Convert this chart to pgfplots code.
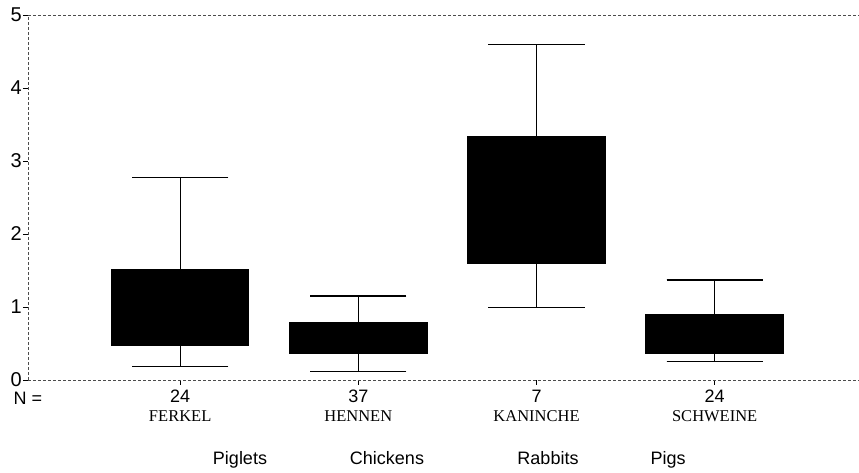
\documentclass[border=0pt]{standalone}
\usepackage{pgfplots}
\pgfplotsset{compat=1.18}
\usepgfplotslibrary{statistics}
\usepackage{fontspec}
\setmainfont{Liberation Serif}
\setsansfont{Liberation Sans}
\begin{document}
\begin{tikzpicture}
\useasboundingbox (0,0) rectangle (859pt,473pt);
\begin{axis}[
  scale only axis, width=831pt, height=365pt,
  at={(28pt,93pt)}, anchor=south west,
  xmin=0.146, xmax=4.81, ymin=0, ymax=5,
  axis lines=left,
  axis line style={-, densely dashed, black!70, line width=0.6pt},
  tick style={black, line width=0.8pt},
  tick align=outside, major tick length=5pt,
  ytick={0,1,2,3,4,5},
  xtick={1,2,3,4},
  xticklabels={
    {{\sffamily 24}\\{\rmfamily\fontsize{16.5}{19}\selectfont FERKEL}},
    {{\sffamily 37}\\{\rmfamily\fontsize{16.5}{19}\selectfont HENNEN}},
    {{\sffamily 7}\\{\rmfamily\fontsize{16.5}{19}\selectfont KANINCHE}},
    {{\sffamily 24}\\{\rmfamily\fontsize{16.5}{19}\selectfont SCHWEINE}}},
  xticklabel style={align=center, inner sep=1pt, yshift=-4pt, font=\sffamily\fontsize{18}{19}\selectfont},
  yticklabel style={font=\sffamily\fontsize{20}{20}\selectfont, inner sep=1pt},
  /pgf/number format/assume math mode=true,
  boxplot/draw direction=y,
  clip=false,
]
\addplot+[mark=none, fill=black, draw=black, line width=1.2pt,
  boxplot prepared={lower whisker=0.18, lower quartile=0.47, median=0.9,
    upper quartile=1.51, upper whisker=2.77, box extend=0.77, whisker extend=0.54}]
  coordinates {};
\addplot+[mark=none, fill=black, draw=black, line width=1.2pt,
  boxplot prepared={lower whisker=0.12, lower quartile=0.36, median=0.55,
    upper quartile=0.79, upper whisker=1.15, box extend=0.77, whisker extend=0.54}]
  coordinates {};
\addplot+[mark=none, fill=black, draw=black, line width=1.2pt,
  boxplot prepared={lower whisker=0.99, lower quartile=1.60, median=2.4,
    upper quartile=3.33, upper whisker=4.60, box extend=0.77, whisker extend=0.54}]
  coordinates {};
\addplot+[mark=none, fill=black, draw=black, line width=1.2pt,
  boxplot prepared={lower whisker=0.25, lower quartile=0.36, median=0.6,
    upper quartile=0.90, upper whisker=1.37, box extend=0.77, whisker extend=0.54}]
  coordinates {};
\draw[densely dashed, black!70, line width=0.6pt] (rel axis cs:0,1) -- (rel axis cs:1,1);
\end{axis}
\node[anchor=base west, font=\sffamily\fontsize{18}{18}\selectfont] at (10pt,68pt) {N =};
\node[anchor=base, font=\sffamily\fontsize{18}{18}\selectfont] at (240pt,8pt) {Piglets};
\node[anchor=base, font=\sffamily\fontsize{18}{18}\selectfont] at (387pt,8pt) {Chickens};
\node[anchor=base, font=\sffamily\fontsize{18}{18}\selectfont] at (548pt,8pt) {Rabbits};
\node[anchor=base, font=\sffamily\fontsize{18}{18}\selectfont] at (668pt,8pt) {Pigs};
\end{tikzpicture}
\end{document}
